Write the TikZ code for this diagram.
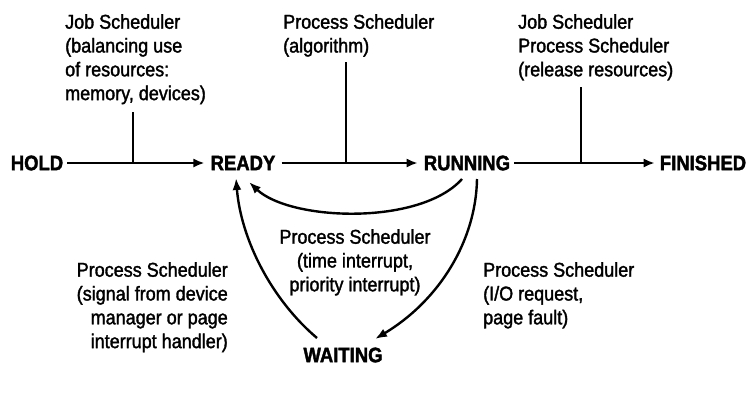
\documentclass[tikz,border=0pt]{standalone}
\usepackage{fontspec}
\setmainfont{Liberation Sans}
\newfontfamily\notefont[FakeStretch=0.9,FakeBold=1.6]{Liberation Sans}
\newfontfamily\statefont[FakeStretch=0.88,FakeBold=1.8]{Liberation Sans Bold}
\usetikzlibrary{arrows.meta}
\begin{document}
\begin{tikzpicture}[x=1pt,y=-1pt,
  state/.style={font=\statefont\fontsize{21}{24}\selectfont,inner sep=0pt},
  note/.style={font=\notefont\fontsize{20}{23.8}\selectfont,inner sep=0pt},
  arr/.style={line width=2pt,-{Latex[length=11pt,width=9pt]}},
  curv/.style={line width=2.4pt,-{Latex[length=12pt,width=9pt]}},
  tick/.style={line width=1.8pt},
  ]
\useasboundingbox (0,0) rectangle (747,394);
% states
\node[state] (hold) at (37,163) {HOLD};
\node[state] (ready) at (243,163) {READY};
\node[state] (running) at (467,163) {RUNNING};
\node[state] (finished) at (703,163) {FINISHED};
\node[state] (waiting) at (343,355) {WAITING};
% main arrows
\draw[arr] ([xshift=4pt]hold.east) -- ([xshift=-6pt]ready.west);
\draw[arr] ([xshift=6pt]ready.east) -- ([xshift=-6pt]running.west);
\draw[arr] ([xshift=4pt]running.east) -- ([xshift=-5pt]finished.west);
% curved arrows
\coordinate (rs) at (462,179);
\coordinate (re) at (249,182);
\draw[curv] (rs) .. controls (420,226) and (290,221) .. (re);
\coordinate (ws) at (317,338);
\coordinate (we) at (236,178);
\draw[curv] (ws) .. controls (272,300) and (241,240) .. (we);
\coordinate (qs) at (477,179);
\coordinate (qe) at (375,339);
\draw[curv] (qs) .. controls (476,240) and (440,300) .. (qe);
% notes
\node[note,anchor=north west,align=left] (n1) at (65,14)
  {Job Scheduler\\(balancing use\\of resources:\\memory, devices)};
\node[note,anchor=north west,align=left] (n2) at (283,14)
  {Process Scheduler\\(algorithm)};
\node[note,anchor=north west,align=left] (n3) at (518,14)
  {Job Scheduler\\Process Scheduler\\(release resources)};
\node[note,anchor=north,align=center] (n4) at (355,229)
  {Process Scheduler\\(time interrupt,\\priority interrupt)};
\node[note,anchor=north east,align=right] (n5) at (228,262)
  {Process Scheduler\\(signal from device\\manager or page\\interrupt handler)};
\node[note,anchor=north west,align=left] (n6) at (483,262)
  {Process Scheduler\\(I/O request,\\page fault)};
% ticks
\coordinate (t1a) at (133,112); \coordinate (t1b) at (133,163);
\coordinate (t2a) at (346,62);  \coordinate (t2b) at (346,163);
\coordinate (t3a) at (581,87);  \coordinate (t3b) at (581,163);
\draw[tick] (t1a) -- (t1b);
\draw[tick] (t2a) -- (t2b);
\draw[tick] (t3a) -- (t3b);
\end{tikzpicture}
\end{document}
